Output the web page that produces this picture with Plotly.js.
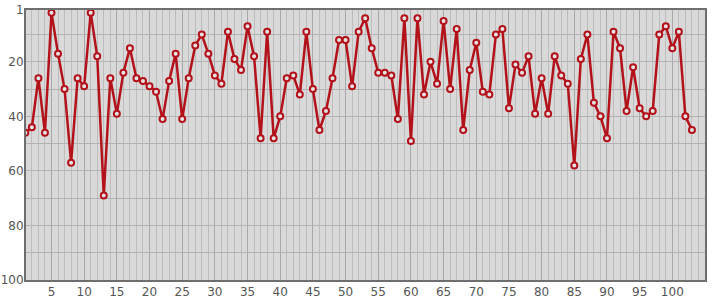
<!DOCTYPE html>
<html>
<head>
<meta charset="utf-8">
<script src="https://cdn.plot.ly/plotly-3.0.1.min.js"></script>
<style>html,body{margin:0;padding:0;background:#fff;}#chart{width:715px;height:300px;}</style>
</head>
<body>
<div id="chart"></div>
<script>
const xValues = [];
for (let i = 1; i <= 103; i++) xValues.push(i);
const rankValues = [
  46, 44, 26, 46, 2, 17, 30, 57, 26, 29,
  2, 18, 69, 26, 39, 24, 15, 26, 27, 29,
  31, 41, 27, 17, 41, 26, 14, 10, 17, 25,
  28, 9, 19, 23, 7, 18, 48, 9, 48, 40,
  26, 25, 32, 9, 30, 45, 38, 26, 12, 12,
  29, 9, 4, 15, 24, 24, 25, 41, 4, 49,
  4, 32, 20, 28, 5, 30, 8, 45, 23, 13,
  31, 32, 10, 8, 37, 21, 24, 18, 39, 26,
  39, 18, 25, 28, 58, 19, 10, 35, 40, 48,
  9, 15, 38, 22, 37, 40, 38, 10, 7, 15,
  9, 40, 45
];
const xTickVals = [5,10,15,20,25,30,35,40,45,50,55,60,65,70,75,80,85,90,95,100];
const yTickVals = [1,10,20,30,40,50,60,70,80,90,100];
const yTickText = ['1','','20','','40','','60','','80','','100'];

const trace = {
  x: xValues,
  y: rankValues,
  type: 'scatter',
  mode: 'lines+markers',
  line: {color: '#b3121b', width: 2.5},
  marker: {symbol: 'circle', size: 6, color: '#e4e4e4', line: {color: '#b3121b', width: 2}},
  hoverinfo: 'x+y'
};

const layout = {
  width: 715, height: 300,
  margin: {l: 26, r: 10, t: 10, b: 20, pad: 0},
  paper_bgcolor: '#ffffff',
  plot_bgcolor: '#d9d9d9',
  showlegend: false,
  font: {family: 'DejaVu Sans, sans-serif', size: 12, color: '#555555'},
  xaxis: {
    range: [1.1, 105],
    tickmode: 'array', tickvals: xTickVals,
    showgrid: true, gridcolor: '#a8a8a8', gridwidth: 1,
    minor: {tickmode: 'linear', tick0: 0, dtick: 1, showgrid: true, gridcolor: '#bdbdbd', gridwidth: 1},
    showline: true, linecolor: '#6e6e6e', linewidth: 2, mirror: true,
    ticks: '', zeroline: false, automargin: false,
    tickfont: {family: 'DejaVu Sans, sans-serif', size: 12, color: '#555555'}
  },
  yaxis: {
    range: [100, 1],
    tickmode: 'array', tickvals: yTickVals, ticktext: yTickText,
    showgrid: true, gridcolor: '#b3b3b3', gridwidth: 1,
    showline: true, linecolor: '#6e6e6e', linewidth: 2, mirror: true,
    ticks: '', zeroline: false, automargin: false,
    ticklabelstandoff: -2,
    tickfont: {family: 'DejaVu Sans, sans-serif', size: 12, color: '#555555'}
  }
};

Plotly.newPlot('chart', [trace], layout, {displayModeBar: false, staticPlot: true});
</script>
</body>
</html>
